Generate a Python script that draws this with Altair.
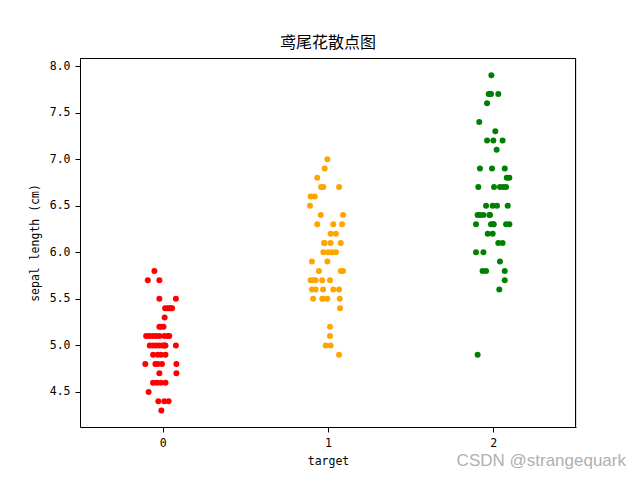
import altair as alt
import pandas as pd

# sepal length values (cm) per species, with horizontal jitter
setosa_sepal = [5.8, 5.7, 5.7, 5.5, 5.5, 5.4, 5.4, 5.4, 5.4, 5.4, 5.3, 5.2, 5.2, 5.2,
                5.1, 5.1, 5.1, 5.1, 5.1, 5.1, 5.1, 5.1, 5.0, 5.0, 5.0, 5.0, 5.0, 5.0, 5.0, 5.0,
                4.9, 4.9, 4.9, 4.9, 4.8, 4.8, 4.8, 4.8, 4.8, 4.7, 4.7, 4.6, 4.6, 4.6, 4.6,
                4.5, 4.4, 4.4, 4.4, 4.3]
setosa_jitter = [-0.05, -0.09, -0.02, -0.02, 0.08, 0.015, 0.03, 0.04, 0.05, 0.057, 0.012,
                 -0.02, -0.01, 0.005,
                 -0.10, -0.08, -0.06, -0.04, -0.02, 0.01, 0.03, 0.04,
                 -0.078, -0.06, -0.04, -0.02, 0.0, 0.01, 0.017, 0.08,
                 -0.058, -0.03, -0.01, 0.017, -0.105, -0.044, -0.03, -0.004, 0.083,
                 -0.02, 0.083, -0.058, -0.035, -0.01, 0.017,
                 -0.085, -0.026, 0.01, 0.036, -0.008]

versicolor_sepal = [7.0, 6.9, 6.8, 6.7, 6.7, 6.7, 6.6, 6.6, 6.5, 6.4, 6.4, 6.3, 6.3, 6.3,
                    6.2, 6.2, 6.1, 6.1, 6.1, 6.1, 6.0, 6.0, 6.0, 6.0, 5.9, 5.9, 5.8, 5.8, 5.8,
                    5.7, 5.7, 5.7, 5.7, 5.7, 5.6, 5.6, 5.6, 5.6, 5.6, 5.5, 5.5, 5.5, 5.5, 5.5,
                    5.4, 5.2, 5.1, 5.0, 5.0, 4.9]
versicolor_jitter = [-0.004, -0.02, -0.065, -0.042, -0.028, 0.067, -0.105, -0.08, -0.109,
                     -0.044, 0.091, -0.065, 0.032, 0.085, 0.016, 0.048,
                     -0.024, -0.02, 0.016, 0.077, -0.028, 0.0, 0.024, 0.048,
                     -0.097, -0.004, -0.055, 0.077, 0.091,
                     -0.105, -0.09, -0.075, -0.035, 0.012,
                     -0.097, -0.075, -0.03, 0.032, 0.067,
                     -0.09, -0.035, -0.03, -0.004, 0.071,
                     0.073, 0.012, 0.012, -0.014, 0.016, 0.067]

virginica_sepal = [7.9, 7.7, 7.7, 7.7, 7.7, 7.6, 7.4, 7.3, 7.2, 7.2, 7.2, 7.1, 6.9, 6.9, 6.9,
                   6.8, 6.8, 6.7, 6.7, 6.7, 6.7, 6.7, 6.5, 6.5, 6.5, 6.5,
                   6.4, 6.4, 6.4, 6.4, 6.4, 6.3, 6.3, 6.3, 6.3, 6.3, 6.3,
                   6.2, 6.2, 6.1, 6.1, 6.0, 6.0, 5.9, 5.8, 5.8, 5.8, 5.7, 5.6, 4.9]
virginica_jitter = [-0.012, -0.028, -0.02, -0.014, 0.03, -0.038, -0.085, 0.012,
                    -0.038, 0.0, 0.056, 0.02, -0.081, -0.008, 0.069, 0.081, 0.097,
                    -0.091, 0.004, 0.04, 0.06, 0.077, -0.044, -0.004, 0.022, 0.087,
                    -0.095, -0.08, -0.06, -0.024, -0.02,
                    -0.105, -0.014, 0.0, 0.002, 0.077, 0.097,
                    -0.034, -0.004, 0.03, 0.056, -0.105, -0.06, 0.04,
                    -0.065, -0.044, 0.069, 0.069, 0.036, -0.095]

targets = [0, 1, 2]
colors = ["red", "orange", "green"]
y_ticks = [4.5, 5.0, 5.5, 6.0, 6.5, 7.0, 7.5, 8.0]

rows = []
for t, vals, jit in zip(targets,
                        [setosa_sepal, versicolor_sepal, virginica_sepal],
                        [setosa_jitter, versicolor_jitter, virginica_jitter]):
    for v, j in zip(vals, jit):
        rows.append({"target": t, "x": t + j, "sepal": v})
df = pd.DataFrame(rows)

CJK = "Noto Sans CJK SC"
MONO = "DejaVu Sans Mono"
FS = 11.5

points = alt.Chart(df).mark_circle(size=36, opacity=1).encode(
    x=alt.X("x:Q", scale=alt.Scale(domain=[-0.5, 2.5], nice=False, zero=False),
            axis=alt.Axis(values=targets, format="d", title="target", grid=False,
                          tickSize=5, tickColor="black", domainColor="black",
                          labelFont=MONO, labelFontSize=FS, labelColor="black",
                          titleFont=MONO, titleFontSize=FS, titleFontWeight="normal",
                          titleColor="black", labelPadding=5, titlePadding=7)),
    y=alt.Y("sepal:Q", scale=alt.Scale(domain=[4.124, 8.086], nice=False, zero=False),
            axis=alt.Axis(values=y_ticks, format=".1f", title="sepal length (cm)",
                          grid=False, tickSize=5, tickColor="black", domainColor="black",
                          labelFont=MONO, labelFontSize=FS, labelColor="black",
                          titleFont=MONO, titleFontSize=FS, titleFontWeight="normal",
                          titleColor="black", labelPadding=5, titlePadding=9)),
    color=alt.Color("target:N", scale=alt.Scale(domain=targets, range=colors), legend=None),
)

frame_top = alt.Chart(pd.DataFrame({"k": [0]})).mark_rule(color="black", strokeWidth=1).encode(
    x=alt.value(0), x2=alt.value(496), y=alt.value(0.5))
frame_right = alt.Chart(pd.DataFrame({"k": [0]})).mark_rule(color="black", strokeWidth=1).encode(
    x=alt.value(495.5), y=alt.value(0), y2=alt.value(369))

watermark = alt.Chart(pd.DataFrame({"t": ["CSDN @strangequark"]})).mark_text(
    font="Liberation Sans", fontSize=17, color="#b0b0b0", align="right", baseline="middle"
).encode(text="t:N", x=alt.value(546), y=alt.value(403))

chart = (points + frame_top + frame_right + watermark).properties(
    width=496, height=369,
    title=alt.TitleParams("鸢尾花散点图", font=CJK, fontSize=16, fontWeight="normal",
                          color="black", offset=7),
    autosize=alt.AutoSizeParams(type="none"),
    padding={"left": 80, "top": 58, "right": 64, "bottom": 53},
).configure_view(stroke=None).configure(background="white")

chart.save("out.html", embed_options={"renderer": "svg", "actions": False})
